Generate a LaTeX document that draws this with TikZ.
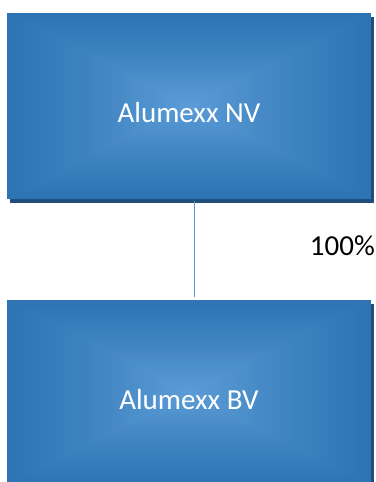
\documentclass[tikz,border=0pt]{standalone}
\usepackage{fontspec}
\setmainfont{Carlito}
\usepackage{xcolor}
\usepackage{tikz}
\usetikzlibrary{calc}
\definecolor{boxdark}{HTML}{2E74B5}
\definecolor{boxlight}{HTML}{5C9DD7}
\definecolor{shadowblue}{HTML}{1F4E79}
\definecolor{linkblue}{HTML}{5B9BD5}
\tikzset{every picture/.style={x=1pt,y=-1pt},
  glow/.style={path picture={
    \foreach \k in {0,...,40}{
      \pgfmathsetmacro\f{1-\k/40}
      \pgfmathsetmacro\m{100*(\k/40)^1.2}
      \fill[boxlight!\m!boxdark]
        ($(path picture bounding box.center)!\f!(path picture bounding box.south west)$) rectangle
        ($(path picture bounding box.center)!\f!(path picture bounding box.north east)$);
    }}},
  company/.style={rectangle, minimum width=364pt, minimum height=186pt, inner sep=0pt, glow,
    text=white, font=\fontsize{29}{34}\selectfont, text height=32pt, text depth=0pt,
    preaction={fill=shadowblue, transform canvas={xshift=3pt, yshift=-4pt}}},
  share/.style={font=\fontsize{29}{34}\selectfont, inner sep=0pt}}

\begin{document}
\begin{tikzpicture}
    \useasboundingbox (0,0) rectangle (375,482);

    \node[company](nv) at (189, 106){Alumexx NV};
    \node[company](bv) at (189, 393){Alumexx BV};
    \node[share, anchor=base east](pct) at (375, 255){100\%};

    \draw[linkblue, line width=1pt, shorten <=2pt, shorten >=3pt]([xshift=5pt]nv.south)--([xshift=5pt]bv.north);
  \end{tikzpicture}
\end{document}
